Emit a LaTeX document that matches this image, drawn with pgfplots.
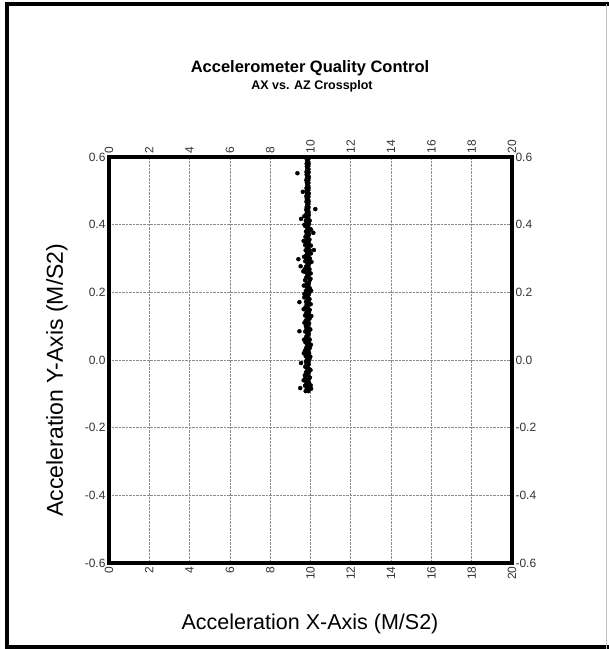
\documentclass[border=0pt]{standalone}
\usepackage{pgfplots}
\pgfplotsset{compat=1.18}
\usepackage{pgfplotstable}
\usepackage{fontspec}
\setmainfont{Liberation Sans}
\definecolor{tickgray}{HTML}{333333}

\pgfplotstableread{
x y
9.76 -0.092
9.90 -0.092
9.82 -0.084
9.95 -0.084
9.73 -0.076
9.87 -0.076
9.79 -0.068
9.93 -0.068
9.84 -0.060
9.89 -0.060
9.75 -0.052
9.97 -0.052
9.81 -0.044
9.88 -0.044
9.78 -0.036
9.92 -0.036
9.85 -0.028
9.96 -0.028
9.74 -0.020
9.86 -0.020
9.80 -0.012
9.91 -0.012
9.77 -0.004
9.90 -0.004
9.83 0.004
9.95 0.004
9.76 0.012
9.87 0.012
9.82 0.020
9.93 0.020
9.73 0.028
9.89 0.028
9.79 0.036
9.97 0.036
9.84 0.044
9.88 0.044
9.75 0.052
9.92 0.052
9.81 0.060
9.96 0.060
9.78 0.068
9.86 0.068
9.85 0.076
9.91 0.076
9.74 0.084
9.90 0.084
9.80 0.092
9.95 0.092
9.77 0.100
9.87 0.100
9.83 0.108
9.93 0.108
9.76 0.116
9.89 0.116
9.82 0.124
9.97 0.124
9.73 0.132
9.88 0.132
9.79 0.140
9.92 0.140
9.84 0.148
9.96 0.148
9.75 0.156
9.86 0.156
9.81 0.164
9.91 0.164
9.78 0.172
9.90 0.172
9.85 0.180
9.95 0.180
9.74 0.188
9.87 0.188
9.80 0.196
9.93 0.196
9.77 0.204
9.89 0.204
9.83 0.212
9.97 0.212
9.76 0.220
9.88 0.220
9.82 0.228
9.92 0.228
9.73 0.236
9.96 0.236
9.79 0.244
9.86 0.244
9.84 0.252
9.91 0.252
9.75 0.260
9.90 0.260
9.81 0.268
9.95 0.268
9.78 0.276
9.87 0.276
9.85 0.284
9.93 0.284
9.74 0.292
9.89 0.292
9.80 0.300
9.97 0.300
9.77 0.308
9.88 0.308
9.83 0.316
9.92 0.316
9.76 0.324
9.96 0.324
9.82 0.332
9.86 0.332
9.73 0.340
9.91 0.340
9.79 0.348
9.90 0.348
9.84 0.356
9.95 0.356
9.75 0.364
9.87 0.364
9.81 0.372
9.93 0.372
9.78 0.380
9.89 0.380
9.85 0.388
9.97 0.388
9.74 0.396
9.88 0.396
9.80 0.404
9.92 0.404
9.77 0.412
9.96 0.412
9.83 0.420
9.86 0.420
9.76 0.428
9.91 0.428
9.82 0.436
9.90 0.436
9.79 0.444
9.87 0.444
9.81 0.452
9.89 0.452
9.84 0.460
9.88 0.460
9.80 0.468
9.90 0.468
9.82 0.476
9.87 0.476
9.79 0.484
9.89 0.484
9.83 0.492
9.91 0.492
9.81 0.500
9.88 0.500
9.80 0.508
9.90 0.508
9.84 0.516
9.87 0.516
9.82 0.524
9.89 0.524
9.79 0.532
9.88 0.532
9.83 0.540
9.91 0.540
9.81 0.548
9.87 0.548
9.80 0.556
9.90 0.556
9.84 0.564
9.89 0.564
9.82 0.572
9.88 0.572
9.81 0.580
9.90 0.580
9.83 0.588
9.87 0.588
9.80 0.596
9.89 0.596
9.66 0.352
10.02 0.338
9.68 0.305
10.05 0.290
9.64 0.262
10.00 0.240
9.67 0.220
10.03 0.205
9.69 0.185
10.01 0.165
9.66 0.150
10.04 0.130
9.70 0.110
9.99 0.090
9.68 0.060
10.02 0.045
9.67 0.020
10.00 -0.030
9.66 -0.060
10.01 -0.075
9.70 0.400
10.03 0.385
9.69 0.425
9.71 0.268
10.02 0.315
9.70 0.195
9.99 0.010
9.72 -0.045
10.03 -0.085
9.35 0.552
10.24 0.446
9.53 0.417
10.14 0.376
10.17 0.325
9.40 0.298
9.51 0.277
10.01 0.256
9.45 0.171
9.45 0.085
9.53 -0.009
9.49 -0.083
9.62 0.497
}\crossdata

\begin{document}
\begin{tikzpicture}[x=1pt,y=1pt]
\pgfplotsset{
  commonaxis/.style={
    scale only axis, width=403pt, height=406pt,
    at={(109pt,86pt)}, anchor=south west,
    xmin=0, xmax=20, ymin=-0.6, ymax=0.6,
    xtick={0,2,4,6,8,10,12,14,16,18,20},
    xticklabels={0,2,4,6,8,10,12,14,16,18,20},
    ytick={-0.6,-0.4,-0.2,0,0.2,0.4,0.6},
    yticklabels={-0.6,-0.4,-0.2,0.0,0.2,0.4,0.6},
    major tick length=0pt,
    tick label style={font=\fontsize{12}{14}\selectfont, text=tickgray},
  }
}
\begin{axis}[commonaxis,
  grid=major,
  major grid style={densely dotted, black!45, line width=0.7pt},
  x tick label style={rotate=90, anchor=east},
  xticklabel pos=lower, yticklabel pos=left,
]
\addplot[only marks, mark=*, mark size=2pt, black] table[x=x,y=y] {\crossdata};
\end{axis}
\begin{axis}[commonaxis, clip=false,
  xticklabel pos=upper, yticklabel pos=right,
  x tick label style={rotate=90, anchor=west},
  y tick label style={anchor=west},
]
\draw[line width=3.5pt, black] (rel axis cs:0,0) rectangle (rel axis cs:1,1);
\end{axis}
\node[font=\fontsize{16.5}{19}\selectfont\bfseries] at (310,581) {Accelerometer Quality Control};
\node[font=\fontsize{12.5}{15}\selectfont\bfseries] at (312,563) {AX vs. AZ Crossplot};
\node[font=\fontsize{23}{27}\selectfont, rotate=90] at (57,269) {Acceleration Y-Axis (M/S2)};
\node[font=\fontsize{21.5}{26}\selectfont] at (310,25) {Acceleration X-Axis (M/S2)};
\draw[line width=3.5pt] (7,0) -- (7,645) -- (609,645);
\draw[line width=3.5pt] (7,1.75) -- (609,1.75);
\draw[line width=0.6pt, black!25] (606,0) -- (606,645);
\pgfresetboundingbox
\path (0,0) rectangle (609,649);
\end{tikzpicture}
\end{document}
